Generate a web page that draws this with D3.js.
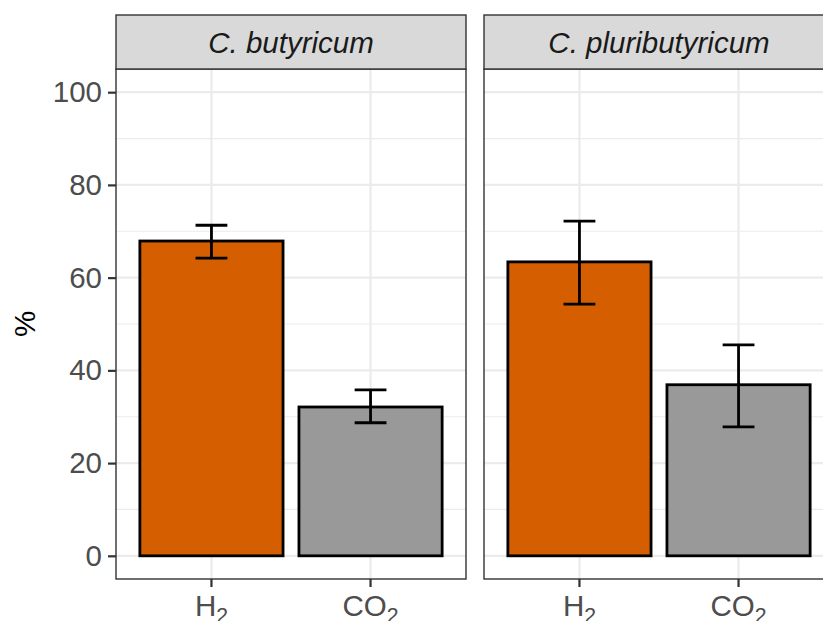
<!DOCTYPE html>
<html>
<head>
<meta charset="utf-8">
<script src="https://cdn.jsdelivr.net/npm/d3@7"></script>
<style>
  html, body { margin: 0; padding: 0; background: #fff; }
  svg { display: block; font-family: "Liberation Sans", Arial, sans-serif; }
</style>
</head>
<body>
<svg id="chart" width="823" height="621"></svg>
<script>
// Facets (species), gas categories and measured shares
const species = ["C. butyricum", "C. pluributyricum"];
const gases = ["H2", "CO2"];
const gasLabels = [["H", "2"], ["CO", "2"]];
const gasColors = ["#D55E00", "#999999"];
const meanButyricum = [67.9, 32.1];
const lowButyricum = [64.2, 28.7];
const highButyricum = [71.3, 35.8];
const meanPluri = [63.4, 36.9];
const lowPluri = [54.3, 27.8];
const highPluri = [72.2, 45.5];
const yTicks = [0, 20, 40, 60, 80, 100];
const yMinor = [10, 30, 50, 70, 90];

const panels = [
  { name: species[0], mean: meanButyricum, low: lowButyricum, high: highButyricum },
  { name: species[1], mean: meanPluri, low: lowPluri, high: highPluri }
];

const svg = d3.select("#chart");
const panelLeft = [116, 484];
const panelW = 350;
const panelTop = 69, panelBottom = 579, stripTop = 15;
const fontSize = 29.5;

const y = d3.scaleLinear().domain([-5, 105]).range([panelBottom, panelTop]);

// Y axis title
svg.append("text")
  .attr("transform", `translate(35,${(panelTop + panelBottom) / 2}) rotate(-90)`)
  .attr("text-anchor", "middle")
  .attr("font-size", fontSize)
  .attr("fill", "#000")
  .text("%");

panels.forEach((p, i) => {
  const x0 = panelLeft[i];
  // discrete positions 1..2 with 0.6 expansion on each side
  const xc = d3.scaleLinear().domain([0.4, 2.6]).range([x0, x0 + panelW]);
  const unit = xc(1) - xc(0);
  const g = svg.append("g");

  // grid
  g.selectAll(".minor").data(yMinor).join("line")
    .attr("x1", x0).attr("x2", x0 + panelW)
    .attr("y1", d => y(d)).attr("y2", d => y(d))
    .attr("stroke", "#ebebeb").attr("stroke-width", 1.2);
  g.selectAll(".major").data(yTicks).join("line")
    .attr("x1", x0).attr("x2", x0 + panelW)
    .attr("y1", d => y(d)).attr("y2", d => y(d))
    .attr("stroke", "#ebebeb").attr("stroke-width", 2.2);
  g.selectAll(".vmajor").data(gases).join("line")
    .attr("x1", (d, j) => xc(j + 1)).attr("x2", (d, j) => xc(j + 1))
    .attr("y1", panelTop).attr("y2", panelBottom)
    .attr("stroke", "#ebebeb").attr("stroke-width", 2.2);

  // bars
  g.selectAll(".bar").data(gases).join("rect")
    .attr("x", (d, j) => xc(j + 1) - 0.45 * unit)
    .attr("width", 0.9 * unit)
    .attr("y", (d, j) => y(p.mean[j]))
    .attr("height", (d, j) => y(0) - y(p.mean[j]))
    .attr("fill", (d, j) => gasColors[j])
    .attr("stroke", "#000").attr("stroke-width", 2.8);

  // error bars
  gases.forEach((d, j) => {
    const cx = xc(j + 1), hw = 0.1 * unit;
    const eg = g.append("g").attr("stroke", "#000").attr("stroke-width", 2.8);
    eg.append("line").attr("x1", cx).attr("x2", cx).attr("y1", y(p.low[j])).attr("y2", y(p.high[j]));
    eg.append("line").attr("x1", cx - hw).attr("x2", cx + hw).attr("y1", y(p.low[j])).attr("y2", y(p.low[j]));
    eg.append("line").attr("x1", cx - hw).attr("x2", cx + hw).attr("y1", y(p.high[j])).attr("y2", y(p.high[j]));
  });

  // panel border
  g.append("rect").attr("x", x0).attr("y", panelTop).attr("width", panelW).attr("height", panelBottom - panelTop)
    .attr("fill", "none").attr("stroke", "#333").attr("stroke-width", 1.4);

  // strip
  g.append("rect").attr("x", x0).attr("y", stripTop).attr("width", panelW).attr("height", panelTop - stripTop)
    .attr("fill", "#d9d9d9").attr("stroke", "#333").attr("stroke-width", 1.4);
  g.append("text")
    .attr("x", x0 + panelW / 2).attr("y", (stripTop + panelTop) / 2)
    .attr("dy", "0.36em")
    .attr("text-anchor", "middle")
    .attr("font-size", fontSize).attr("font-style", "italic")
    .attr("fill", "#1a1a1a")
    .text(p.name);

  // x ticks and labels
  gases.forEach((d, j) => {
    const cx = xc(j + 1);
    g.append("line").attr("x1", cx).attr("x2", cx).attr("y1", panelBottom).attr("y2", panelBottom + 8)
      .attr("stroke", "#333").attr("stroke-width", 2.2);
    const t = g.append("text").attr("x", cx).attr("y", 616)
      .attr("text-anchor", "middle").attr("font-size", fontSize).attr("fill", "#4d4d4d");
    t.append("tspan").text(gasLabels[j][0]);
    t.append("tspan").attr("dy", 7).attr("font-size", fontSize * 0.72).text(gasLabels[j][1]);
  });
});

// y axis on first panel
const yAxis = d3.axisLeft(y).tickValues(yTicks).tickSize(8).tickPadding(6);
const ya = svg.append("g").attr("transform", `translate(${panelLeft[0]},0)`).call(yAxis);
ya.select(".domain").remove();
ya.selectAll("line").attr("stroke", "#333").attr("stroke-width", 2.2);
ya.selectAll("text").attr("font-size", fontSize).attr("fill", "#4d4d4d")
  .attr("font-family", "Liberation Sans, Arial, sans-serif");
</script>
</body>
</html>
